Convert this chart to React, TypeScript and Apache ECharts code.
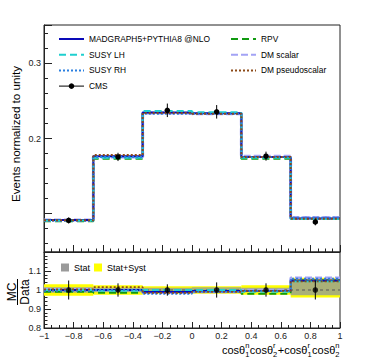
import React, { useEffect, useRef } from 'react';
import * as echarts from 'echarts';

// Bin edges and centers of cosθ1n cosθ2r + cosθ1r cosθ2n
const edges = [-1, -0.6667, -0.3333, 0, 0.3333, 0.6667, 1];
const centers = [-0.8333, -0.5, -0.1667, 0.1667, 0.5, 0.8333];

// Normalized distributions (top panel)
const madgraph = [0.0915, 0.1765, 0.2345, 0.2335, 0.1755, 0.0935];
const susyLH = [0.091, 0.1745, 0.2365, 0.235, 0.1745, 0.093];
const susyRH = [0.0905, 0.1755, 0.233, 0.233, 0.1755, 0.0945];
const rpv = [0.09, 0.173, 0.235, 0.234, 0.173, 0.0935];
const dmScalar = [0.0915, 0.1755, 0.234, 0.233, 0.1765, 0.095];
const dmPseudo = [0.0912, 0.178, 0.234, 0.233, 0.1755, 0.0932];
const cmsVals = [0.091, 0.1755, 0.2375, 0.2355, 0.1765, 0.089];
const cmsErr = [0.004, 0.0055, 0.009, 0.009, 0.006, 0.0045];

// Ratio panel (MC / Data)
const rMadgraph = [1.0, 1.0, 0.99, 0.995, 0.995, 1.05];
const rSusyLH = [1.0, 0.995, 1.0, 1.0, 0.99, 1.045];
const rSusyRH = [0.995, 1.0, 0.98, 0.99, 0.995, 1.06];
const rRpv = [0.99, 0.985, 0.99, 0.995, 0.98, 1.05];
const rDmScalar = [1.005, 1.0, 0.985, 0.99, 1.0, 1.065];
const rDmPseudo = [1.003, 1.015, 0.985, 0.99, 0.995, 1.045];
const rDataErr = [0.05, 0.035, 0.03, 0.04, 0.035, 0.05];
const statLo = [0.985, 0.988, 0.988, 0.985, 0.988, 0.972];
const statHi = [1.015, 1.012, 1.012, 1.015, 1.012, 1.05];
const systLo = [0.97, 0.975, 0.98, 0.98, 0.975, 0.96];
const systHi = [1.03, 1.025, 1.02, 1.02, 1.025, 1.065];

const FONT = '"Liberation Sans", Arial, Helvetica, sans-serif';

const models = [
  { name: 'RPV', top: rpv, ratio: rRpv, color: '#119a11', width: 2, type: [7, 4] },
  { name: 'DM scalar', top: dmScalar, ratio: rDmScalar, color: '#a3a3f5', width: 3, type: [7, 3] },
  { name: 'MADGRAPH5+PYTHIA8 @NLO', top: madgraph, ratio: rMadgraph, color: '#0a0ab8', width: 2, type: 'solid' },
  { name: 'SUSY LH', top: susyLH, ratio: rSusyLH, color: '#1fcfcf', width: 2, type: [7, 4] },
  { name: 'SUSY RH', top: susyRH, ratio: rSusyRH, color: '#2a7fe0', width: 2, type: [2, 2] },
  { name: 'DM pseudoscalar', top: dmPseudo, ratio: rDmPseudo, color: '#8c4a18', width: 2, type: [2, 2] },
];

const stepData = (vals: number[]) => edges.map((e, i) => [e, vals[Math.min(i, vals.length - 1)]]);

const measure = (t: string, size: number) => {
  const c = document.createElement('canvas').getContext('2d');
  if (!c) return t.length * size * 0.5;
  c.font = `${size}px "Liberation Sans"`;
  return c.measureText(t).width;
};

export default function App() {
  const ref = useRef<HTMLDivElement>(null);
  useEffect(() => {
    document.body.style.margin = '0';
    if (!ref.current) return;
    const chart = echarts.init(ref.current, null, { renderer: 'svg' });

    const bandRender = (color: string) => (params: any, api: any) => {
      const p0 = api.coord([api.value(0), api.value(3)]);
      const p1 = api.coord([api.value(1), api.value(2)]);
      return {
        type: 'rect',
        shape: { x: p0[0], y: p0[1], width: p1[0] - p0[0], height: p1[1] - p0[1] },
        style: { fill: color },
      };
    };
    const errRender = (params: any, api: any) => {
      const x = api.value(0), y = api.value(1), e = api.value(2);
      const a = api.coord([x, y - e]);
      const b = api.coord([x, y + e]);
      return {
        type: 'line',
        shape: { x1: a[0], y1: a[1], x2: b[0], y2: b[1] },
        style: { stroke: '#000', lineWidth: 1 },
      };
    };

    // x axis title with stacked super/subscripts
    const baseSize = 11, scriptSize = 7.5;
    const parts = [
      { base: 'cosθ', sup: 'n', sub: '1' },
      { base: 'cosθ', sup: 'r', sub: '2' },
      { base: '+cosθ', sup: 'r', sub: '1' },
      { base: 'cosθ', sup: 'n', sub: '2' },
    ];
    const widths = parts.map((p) => {
      const wb = measure(p.base, baseSize);
      const ws = Math.max(measure(p.sup, scriptSize), measure(p.sub, scriptSize)) + 0.5;
      return { wb, ws };
    });
    const total = widths.reduce((s, w) => s + w.wb + w.ws, 0);
    let cx = 340 - total;
    const titleEls: any[] = [];
    parts.forEach((p, i) => {
      titleEls.push({ type: 'text', x: cx, y: 349.6, style: { text: p.base, font: `${baseSize}px ${FONT}`, fill: '#000', textVerticalAlign: 'middle' } });
      cx += widths[i].wb;
      titleEls.push({ type: 'text', x: cx, y: 345.8, style: { text: p.sup, font: `${scriptSize}px ${FONT}`, fill: '#000', textVerticalAlign: 'middle' } });
      titleEls.push({ type: 'text', x: cx, y: 354, style: { text: p.sub, font: `${scriptSize}px ${FONT}`, fill: '#000', textVerticalAlign: 'middle' } });
      cx += widths[i].ws;
    });

    const series: any[] = [];
    models.forEach((m) => {
      series.push({
        name: m.name, type: 'line', step: 'end', symbol: 'none', xAxisIndex: 0, yAxisIndex: 0,
        data: stepData(m.top), color: m.color,
        lineStyle: { color: m.color, width: m.width, type: m.type },
      });
    });
    series.push({
      name: 'CMS', type: 'line', xAxisIndex: 0, yAxisIndex: 0, symbol: 'circle', symbolSize: 5.5,
      data: centers.map((c, i) => [c, cmsVals[i]]), color: '#000', itemStyle: { color: '#000' },
      lineStyle: { color: '#000', width: 1, opacity: 0 }, z: 5,
    });
    series.push({
      type: 'custom', xAxisIndex: 0, yAxisIndex: 0, renderItem: errRender, z: 4,
      data: centers.map((c, i) => [c, cmsVals[i], cmsErr[i]]), encode: { x: 0, y: 1 },
    });
    // ratio panel
    series.push({
      name: 'Stat+Syst', type: 'custom', xAxisIndex: 1, yAxisIndex: 1, renderItem: bandRender('#ffff00'),
      itemStyle: { color: '#ffff00' }, color: '#ffff00',
      data: centers.map((_, i) => [edges[i], edges[i + 1], systLo[i], systHi[i]]), encode: { x: [0, 1], y: [2, 3] },
    });
    series.push({
      name: 'Stat', type: 'custom', xAxisIndex: 1, yAxisIndex: 1, renderItem: bandRender('rgba(140,150,160,0.75)'),
      itemStyle: { color: '#9a9a9a' }, color: '#9a9a9a',
      data: centers.map((_, i) => [edges[i], edges[i + 1], statLo[i], statHi[i]]), encode: { x: [0, 1], y: [2, 3] },
    });
    series.push({
      type: 'line', xAxisIndex: 1, yAxisIndex: 1, symbol: 'none', silent: true,
      data: [[-1, 1], [1, 1]], lineStyle: { color: '#555', width: 1, type: [3, 3] },
    });
    models.forEach((m) => {
      series.push({
        name: m.name, type: 'line', step: 'end', symbol: 'none', xAxisIndex: 1, yAxisIndex: 1,
        data: stepData(m.ratio), color: m.color,
        lineStyle: { color: m.color, width: m.width === 3 ? 2.5 : 1.8, type: m.type },
      });
    });
    series.push({
      type: 'custom', xAxisIndex: 1, yAxisIndex: 1, renderItem: errRender, z: 4,
      data: centers.map((c, i) => [c, 1, rDataErr[i]]), encode: { x: 0, y: 1 },
    });
    series.push({
      type: 'scatter', xAxisIndex: 1, yAxisIndex: 1, symbol: 'circle', symbolSize: 5.5, z: 5,
      itemStyle: { color: '#000' }, data: centers.map((c) => [c, 1]),
    });

    const fmtX = (v: number) => {
      const r = Math.round(v * 10) / 10;
      if (r === 0) return '0';
      return (r < 0 ? '\u2212' : '') + String(Math.abs(r));
    };

    const legendText = { fontSize: 8.4, fontFamily: FONT, color: '#000', lineHeight: 10 };
    const noSym = (name: string) => ({ name, itemStyle: { opacity: 0 } });
    const axLine = { show: true, onZero: false, lineStyle: { color: '#222' } };

    chart.setOption({
      animation: false,
      textStyle: { fontFamily: FONT },
      grid: [
        { left: 44, top: 25, width: 296, height: 227, show: true, borderColor: '#222', borderWidth: 1, backgroundColor: 'transparent' },
        { left: 44, top: 252, width: 296, height: 76, show: true, borderColor: '#222', borderWidth: 1, backgroundColor: 'transparent' },
      ],
      xAxis: [
        {
          type: 'value', gridIndex: 0, min: -1, max: 1, interval: 0.2,
          axisLine: axLine,
          axisTick: { show: true, inside: true, length: 7, lineStyle: { color: '#222' } },
          minorTick: { show: true, splitNumber: 4, length: 3.5, lineStyle: { color: '#222' } },
          axisLabel: { show: false }, splitLine: { show: false },
        },
        {
          type: 'value', gridIndex: 1, min: -1, max: 1, interval: 0.2,
          axisLine: axLine,
          axisTick: { show: true, inside: true, length: 6, lineStyle: { color: '#222' } },
          minorTick: { show: true, splitNumber: 4, length: 3, lineStyle: { color: '#222' } },
          axisLabel: { show: true, fontSize: 9, color: '#222', margin: 3, formatter: fmtX, fontFamily: FONT },
          splitLine: { show: false },
        },
      ],
      yAxis: [
        {
          type: 'value', gridIndex: 0, min: 0.049, max: 0.351, splitNumber: 3, minInterval: 0.1, maxInterval: 0.1,
          axisLine: axLine,
          axisTick: { show: true, inside: true, length: 8, lineStyle: { color: '#222' } },
          minorTick: { show: true, splitNumber: 5, length: 4, lineStyle: { color: '#222' } },
          axisLabel: {
            show: true, fontSize: 9, color: '#222', margin: 3, fontFamily: FONT, showMinLabel: false, showMaxLabel: false,
            formatter: (v: number) => (Math.abs(v - 0.2) < 1e-6 ? '0.2' : Math.abs(v - 0.3) < 1e-6 ? '0.3' : ''),
          },
          splitLine: { show: false },
        },
        {
          type: 'value', gridIndex: 1, min: 0.8, max: 1.2, interval: 0.1,
          axisLine: axLine,
          axisTick: { show: true, inside: true, length: 7, lineStyle: { color: '#222' } },
          minorTick: { show: true, splitNumber: 5, length: 3.5, lineStyle: { color: '#222' } },
          axisLabel: {
            show: true, fontSize: 9, color: '#222', margin: 3, fontFamily: FONT, showMaxLabel: false,
            formatter: (v: number) => { const r = Math.round(v * 10) / 10; return r === 1 ? '1' : r.toFixed(1); },
          },
          splitLine: { show: false },
        },
      ],
      legend: [
        {
          left: 53, top: 29, orient: 'vertical', itemWidth: 25, itemHeight: 7, itemGap: 5.7, selectedMode: false,
          textStyle: legendText,
          data: [noSym('MADGRAPH5+PYTHIA8 @NLO'), noSym('SUSY LH'), noSym('SUSY RH'),
            { name: 'CMS', lineStyle: { color: '#000', width: 1, opacity: 1, type: 'solid' }, itemStyle: { color: '#000', opacity: 1 } }],
        },
        {
          left: 225, top: 29, orient: 'vertical', itemWidth: 25, itemHeight: 7, itemGap: 5.7, selectedMode: false,
          textStyle: legendText,
          data: [noSym('RPV'), noSym('DM scalar'), noSym('DM pseudoscalar')],
        },
        {
          left: 56, top: 258, orient: 'horizontal', itemWidth: 8, itemHeight: 8, itemGap: 4, icon: 'rect', selectedMode: false,
          textStyle: { fontSize: 9, fontFamily: FONT, color: '#000' },
          data: [{ name: 'Stat', itemStyle: { color: '#9a9a9a' } }, { name: 'Stat+Syst', itemStyle: { color: '#ffff00' } }],
        },
      ],
      graphic: [
        {
          type: 'text', x: 15, y: 134, rotation: Math.PI / 2,
          style: { text: 'Events normalized to unity', font: `11.6px ${FONT}`, fill: '#000', textAlign: 'center', textVerticalAlign: 'middle' },
        },
        {
          type: 'group', x: 17.5, y: 292, rotation: Math.PI / 2,
          children: [
            { type: 'text', x: 0, y: -6, style: { text: 'MC', font: `12px ${FONT}`, fill: '#000', textAlign: 'center', textVerticalAlign: 'middle' } },
            { type: 'line', shape: { x1: -13, y1: 0, x2: 13, y2: 0 }, style: { stroke: '#000', lineWidth: 1 } },
            { type: 'text', x: 0, y: 7, style: { text: 'Data', font: `12px ${FONT}`, fill: '#000', textAlign: 'center', textVerticalAlign: 'middle' } },
          ],
        },
        ...titleEls,
      ],
      series,
    });
    return () => chart.dispose();
  }, []);
  return <div ref={ref} style={{ width: 370, height: 360 }} />;
}
